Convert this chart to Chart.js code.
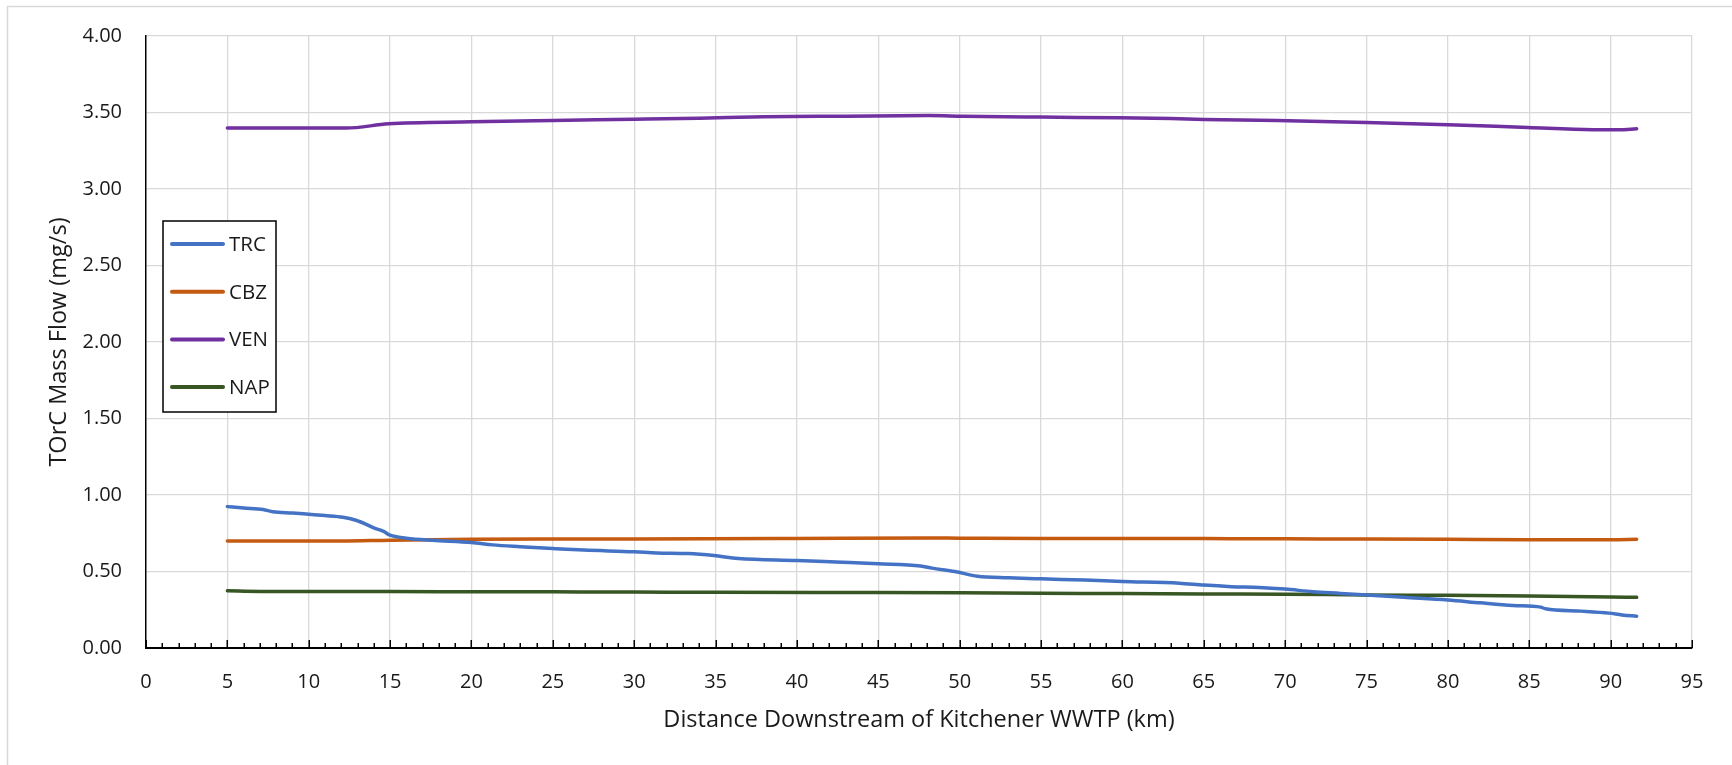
<!DOCTYPE html>
<html>
<head>
<meta charset="utf-8">
<title>TOrC Mass Flow</title>
<script src="https://cdn.jsdelivr.net/npm/chart.js@4.4.1/dist/chart.umd.min.js"></script>
<style>
  html, body { margin: 0; padding: 0; background: #ffffff; }
  #wrap { position: relative; width: 1732px; height: 765px; }
  canvas { display: block; }
</style>
</head>
<body>
<div id="wrap"><canvas id="chart" width="1732" height="765"></canvas></div>
<script>
// Distance downstream (km) and mass flow (mg/s) for each compound
const trcKm   = [5, 6, 7.2, 7.8, 9, 10, 11, 12.1, 12.9, 13.5, 14.0, 14.6, 15.0, 16.0, 17.6, 20.0, 21.3, 23, 25, 26.9, 30.0, 31.4, 33.3, 34.9, 36.4, 40, 42.4, 45, 47.6, 48.3, 49.7, 51.1, 53, 55, 57.7, 60, 63.5, 65, 66.7, 68.4, 70, 71.7, 73.4, 75, 77.3, 80, 82, 84, 85.7, 86, 88.2, 89.9, 90.7, 91.6];
const trcFlow = [0.924, 0.915, 0.905, 0.890, 0.882, 0.874, 0.866, 0.855, 0.835, 0.810, 0.785, 0.762, 0.737, 0.718, 0.704, 0.690, 0.674, 0.662, 0.650, 0.640, 0.629, 0.621, 0.617, 0.604, 0.585, 0.572, 0.562, 0.551, 0.536, 0.522, 0.500, 0.469, 0.459, 0.452, 0.444, 0.435, 0.424, 0.411, 0.401, 0.396, 0.385, 0.368, 0.357, 0.346, 0.331, 0.314, 0.295, 0.278, 0.267, 0.256, 0.241, 0.228, 0.216, 0.208];

const cbzKm   = [5, 12, 15, 20, 25, 30, 40, 48, 50, 55, 60, 65, 70, 75, 80, 85, 90, 91.6];
const cbzFlow = [0.699, 0.699, 0.705, 0.710, 0.712, 0.713, 0.716, 0.719, 0.718, 0.716, 0.716, 0.715, 0.714, 0.712, 0.710, 0.708, 0.708, 0.710];

const venKm   = [5, 12.3, 14.9, 20, 25, 30, 34, 38, 43, 48.1, 50.2, 55, 59.8, 63, 65, 69.5, 75, 80, 84.9, 88.9, 90.5, 91.6];
const venFlow = [3.398, 3.398, 3.426, 3.439, 3.448, 3.456, 3.463, 3.472, 3.476, 3.480, 3.476, 3.470, 3.465, 3.460, 3.455, 3.448, 3.435, 3.420, 3.402, 3.388, 3.387, 3.393];

const napKm   = [5, 7, 15, 20, 25, 30, 35, 45, 50, 55, 60, 65, 70, 75, 80, 85, 90, 91.6];
const napFlow = [0.374, 0.370, 0.369, 0.368, 0.367, 0.366, 0.364, 0.363, 0.361, 0.358, 0.356, 0.353, 0.351, 0.347, 0.344, 0.340, 0.334, 0.331];

const seriesNames  = ['TRC', 'CBZ', 'VEN', 'NAP'];
const seriesColors = ['#4472C4', '#C55A11', '#7030A0', '#375623'];

const xTitle = 'Distance Downstream of Kitchener WWTP (km)';
const yTitle = 'TOrC Mass Flow (mg/s)';

const FONT = '"Open Sans", "Noto Sans", sans-serif';
const TEXT = '#1a1a1a';

function pairs(xs, ys) { return xs.map((x, i) => ({ x: x, y: ys[i] })); }

const seriesData = [pairs(trcKm, trcFlow), pairs(cbzKm, cbzFlow), pairs(venKm, venFlow), pairs(napKm, napFlow)];

// Light frame around the whole figure
const framePlugin = {
  id: 'frame',
  beforeDraw(chart) {
    const ctx = chart.ctx;
    ctx.save();
    ctx.fillStyle = '#ffffff';
    ctx.fillRect(0, 0, chart.width, chart.height);
    ctx.strokeStyle = '#d9d9d9';
    ctx.lineWidth = 1.5;
    ctx.strokeRect(7.5, 6.5, chart.width + 50, chart.height + 50);
    ctx.restore();
  }
};

// Inside tick marks on the distance axis: minor every km, major every 5 km
const insideTicksPlugin = {
  id: 'insideTicks',
  afterDraw(chart) {
    const xs = chart.scales.x;
    const ctx = chart.ctx;
    const base = chart.chartArea.bottom;
    ctx.save();
    ctx.strokeStyle = '#000000';
    ctx.lineWidth = 1.5;
    for (let v = xs.min; v <= xs.max; v++) {
      const px = Math.round(xs.getPixelForValue(v)) + 0.25;
      const len = (v % 5 === 0) ? 8 : 5;
      ctx.beginPath();
      ctx.moveTo(px, base);
      ctx.lineTo(px, base - len);
      ctx.stroke();
    }
    ctx.restore();
  }
};

// Boxed legend placed inside the plot area
const boxLegendPlugin = {
  id: 'boxLegend',
  afterDraw(chart) {
    const ctx = chart.ctx;
    const box = { x: 163, y: 221, w: 113, h: 191 };
    ctx.save();
    ctx.fillStyle = '#ffffff';
    ctx.fillRect(box.x, box.y, box.w, box.h);
    ctx.strokeStyle = '#000000';
    ctx.lineWidth = 1.5;
    ctx.strokeRect(box.x, box.y, box.w, box.h);
    ctx.font = '20.5px ' + FONT;
    ctx.textBaseline = 'middle';
    ctx.textAlign = 'left';
    chart.data.datasets.forEach((ds, i) => {
      const y = 244 + i * 47.7;
      ctx.strokeStyle = ds.borderColor;
      ctx.lineWidth = 4;
      ctx.lineCap = 'round';
      ctx.beginPath();
      ctx.moveTo(172, y);
      ctx.lineTo(223, y);
      ctx.stroke();
      ctx.fillStyle = TEXT;
      ctx.fillText(ds.label, 229, y + 1);
    });
    ctx.restore();
  }
};

new Chart(document.getElementById('chart'), {
  type: 'line',
  data: {
    datasets: seriesNames.map((name, i) => ({
      label: name,
      data: seriesData[i],
      borderColor: seriesColors[i],
      backgroundColor: seriesColors[i],
      borderWidth: 3.5,
      borderCapStyle: 'round',
      pointRadius: 0,
      pointHoverRadius: 0,
      cubicInterpolationMode: 'monotone',
      fill: false
    }))
  },
  options: {
    responsive: false,
    animation: false,
    events: [],
    layout: { padding: { top: 36, right: 40, left: 0, bottom: 0 } },
    plugins: {
      legend: { display: false },
      tooltip: { enabled: false }
    },
    scales: {
      x: {
        type: 'linear',
        min: 0,
        max: 95,
        afterFit(scale) { scale.height = 117; },
        ticks: {
          stepSize: 5,
          padding: 22,
          color: TEXT,
          font: { family: FONT, size: 20 },
          maxRotation: 0
        },
        grid: {
          drawTicks: false,
          color: ctx => (ctx.tick && ctx.tick.value === 0) ? 'rgba(0,0,0,0)' : '#d9d9d9',
          lineWidth: 1.3
        },
        border: { display: true, color: '#000000', width: 2 },
        title: {
          display: true,
          text: xTitle,
          color: TEXT,
          font: { family: FONT, size: 23.5 },
          padding: { top: 0, bottom: 31 }
        }
      },
      y: {
        type: 'linear',
        min: 0,
        max: 4,
        afterFit(scale) { scale.width = 146; },
        ticks: {
          stepSize: 0.5,
          padding: 24,
          color: TEXT,
          font: { family: FONT, size: 20 },
          callback: v => Number(v).toFixed(2)
        },
        grid: {
          drawTicks: false,
          color: ctx => (ctx.tick && ctx.tick.value === 0) ? 'rgba(0,0,0,0)' : '#d9d9d9',
          lineWidth: 1.3
        },
        border: { display: true, color: '#000000', width: 1.5 },
        title: {
          display: true,
          text: yTitle,
          color: TEXT,
          font: { family: FONT, size: 23.5 },
          padding: { top: 45, bottom: 0 }
        }
      }
    }
  },
  plugins: [framePlugin, insideTicksPlugin, boxLegendPlugin]
});
</script>
</body>
</html>
